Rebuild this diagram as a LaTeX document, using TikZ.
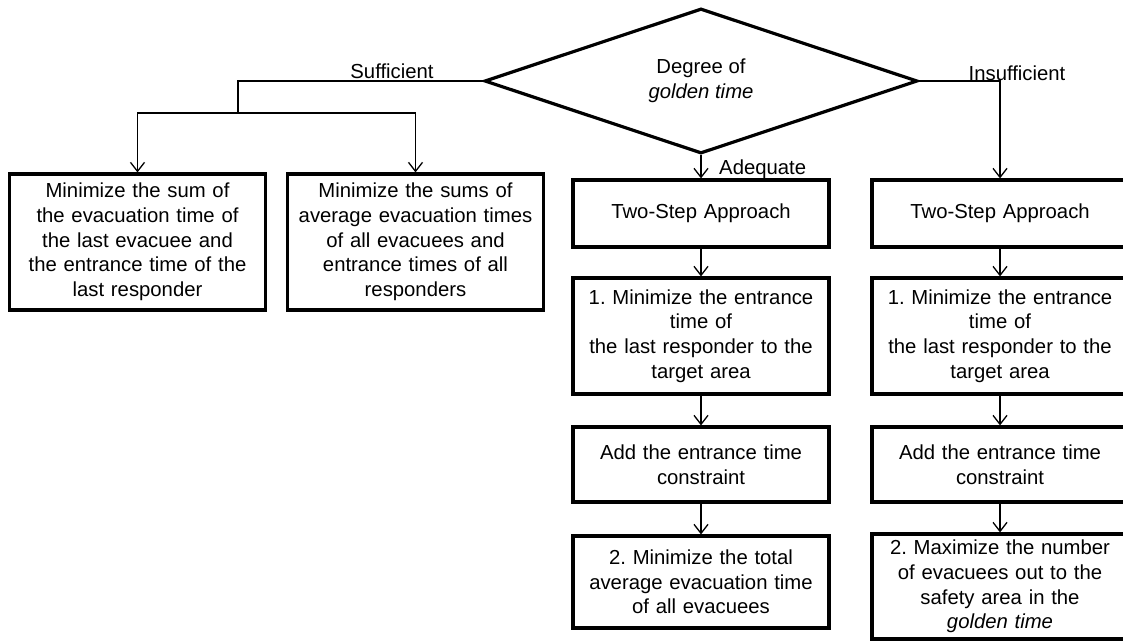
\documentclass[tikz,border=0pt]{standalone}
\usepackage{fontspec}
\setmainfont{Liberation Sans}
\usetikzlibrary{arrows.meta,shapes.geometric}
\frenchspacing

\tikzset{
  stepbox/.style={draw, line width=3.2pt, minimum width=256pt, text width=250pt, align=center, inner sep=0pt},
  decision/.style={draw, shape=diamond, line width=3.2pt, aspect=3, minimum width=433pt, minimum height=145pt, inner sep=0pt, align=center},
  link/.style={line width=1.3pt},
  branch/.style={inner sep=0pt}
}

\begin{document}
\begin{tikzpicture}[x=1pt,y=-1pt,line join=miter,>={Straight Barb[length=9pt,width=14pt]},font=\fontsize{20.3}{24.7}\selectfont]
\useasboundingbox[fill=white] (0,0) rectangle (1123,641);

% decision
\node[decision] (degree) at (701,81) {Degree of\\\textit{golden time}};

% sufficient
\node[stepbox,minimum height=136pt] (sumlast) at (137.5,242) {Minimize the sum of\\the evacuation time of\\the last evacuee and\\the entrance time of the\\last responder};
\node[stepbox,minimum height=136pt] (sumavg) at (415.5,242) {Minimize the sums of\\average evacuation times\\of all evacuees and\\entrance times of all\\responders};

% adequate
\node[stepbox,minimum height=67pt] (twostepA) at (701,213.5) {Two-Step Approach};
\node[stepbox,minimum height=116pt] (entryA) at (701,336) {1. Minimize the entrance\\time of\\the last responder to the\\target area};
\node[stepbox,minimum height=75pt] (constrA) at (701,464.5) {Add the entrance time\\constraint};
\node[stepbox,minimum height=92pt] (totalA) at (701,582) {2. Minimize the total\\average evacuation time\\of all evacuees};

% insufficient
\node[stepbox,minimum height=67pt] (twostepI) at (1000,213.5) {Two-Step Approach};
\node[stepbox,minimum height=116pt] (entryI) at (1000,336) {1. Minimize the entrance\\time of\\the last responder to the\\target area};
\node[stepbox,minimum height=75pt] (constrI) at (1000,464.5) {Add the entrance time\\constraint};
\node[stepbox,minimum height=105pt] (numberI) at (1000,586.5) {2. Maximize the number\\of evacuees out to the\\safety area in the\\\textit{golden time}};

% connectors
\coordinate (suffTop) at (238,81);
\coordinate (suffBot) at (238,113);
\draw[link] (degree.west) -- (suffTop) -- (suffBot);
\draw[link,->] (suffBot) -| (sumlast.north);
\draw[link,->] (suffBot) -| (sumavg.north);
\draw[link,->] (degree.south) -- (twostepA.north);
\draw[link,->] (degree.east) -| (twostepI.north);

\draw[link,->] (twostepA) -- (entryA);
\draw[link,->] (entryA) -- (constrA);
\draw[link,->] (constrA) -- (totalA);
\draw[link,->] (twostepI) -- (entryI);
\draw[link,->] (entryI) -- (constrI);
\draw[link,->] (constrI) -- (numberI);

% labels
\node[branch,anchor=base] (suff) at (392,78) {Sufficient};
\node[branch,anchor=base] (insuff) at (1017,80) {Insufficient};
\node[branch,anchor=base west] (adeq) at (719,174) {Adequate};
\end{tikzpicture}
\end{document}
